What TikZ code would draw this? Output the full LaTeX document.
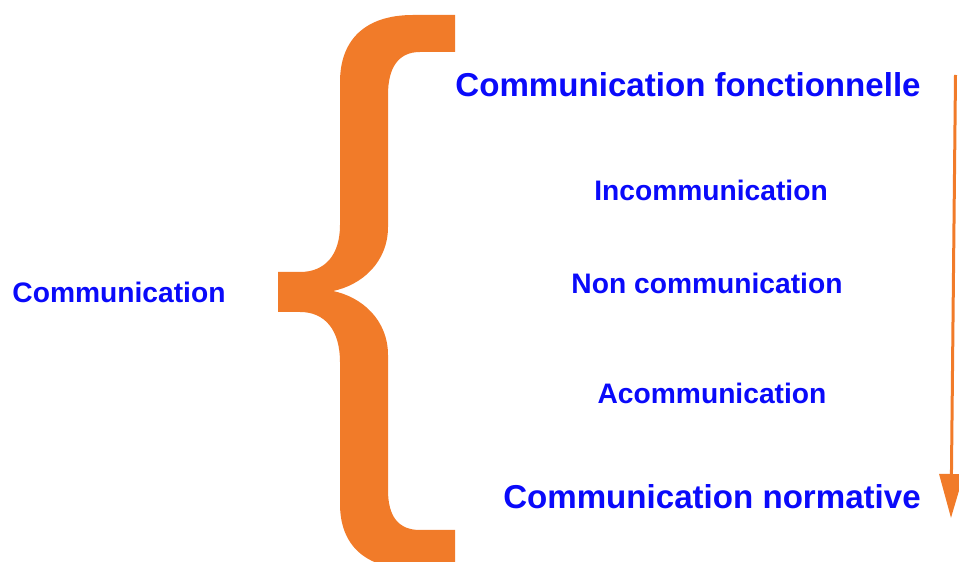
\documentclass[tikz,border=0pt]{standalone}
\usepackage{fontspec}
\setmainfont{Liberation Sans}
\usetikzlibrary{arrows.meta}
\definecolor{braceorange}{RGB}{241,123,41}
\definecolor{textblue}{RGB}{10,10,250}

\begin{document}
\begin{tikzpicture}[x=1pt, y=1pt]

\tikzstyle{term}=[text=textblue, font=\bfseries\fontsize{28.2}{30}\selectfont, inner sep=0pt, anchor=base]
\tikzstyle{extreme}=[term, font=\bfseries\fontsize{33.1}{36}\selectfont]

\tikzstyle{connect}=[-{Triangle[length=44pt, width=24pt]}, line width=3pt, color=braceorange]

\useasboundingbox (0,0) rectangle (959,562);

\node[term] (comm) at (119,259) {Communication};

\node[extreme] (fonct) at (688,465) {Communication fonctionnelle};
\node[term] (incomm) at (711,361) {Incommunication};
\node[term] (noncomm) at (707,268) {Non communication};
\node[term] (acomm) at (712,158) {Acommunication};
\node[extreme] (norm) at (712,53) {Communication normative};

% accolade
\fill[braceorange] (455,547) -- (455,510) -- (420,510)
  .. controls (398,510) and (388,494) .. (388,467) -- (388,335)
  .. controls (388,300) and (362,277) .. (333,271)
  .. controls (362,265) and (388,242) .. (388,207) -- (388,72)
  .. controls (388,46) and (398,32) .. (420,32) -- (455,32) -- (455,-7) -- (413,-7)
  .. controls (365,-7) and (340,17) .. (340,58) -- (340,200)
  .. controls (340,232) and (325,250) .. (300,250) -- (278,250) -- (278,290) -- (300,290)
  .. controls (325,290) and (340,307) .. (340,337) -- (340,480)
  .. controls (340,522) and (365,547) .. (413,547) -- cycle;

\coordinate (start) at (955.5,487);
\coordinate (finish) at (951,44);

\draw[connect] (start) -- (finish);

\end{tikzpicture}
\end{document}
